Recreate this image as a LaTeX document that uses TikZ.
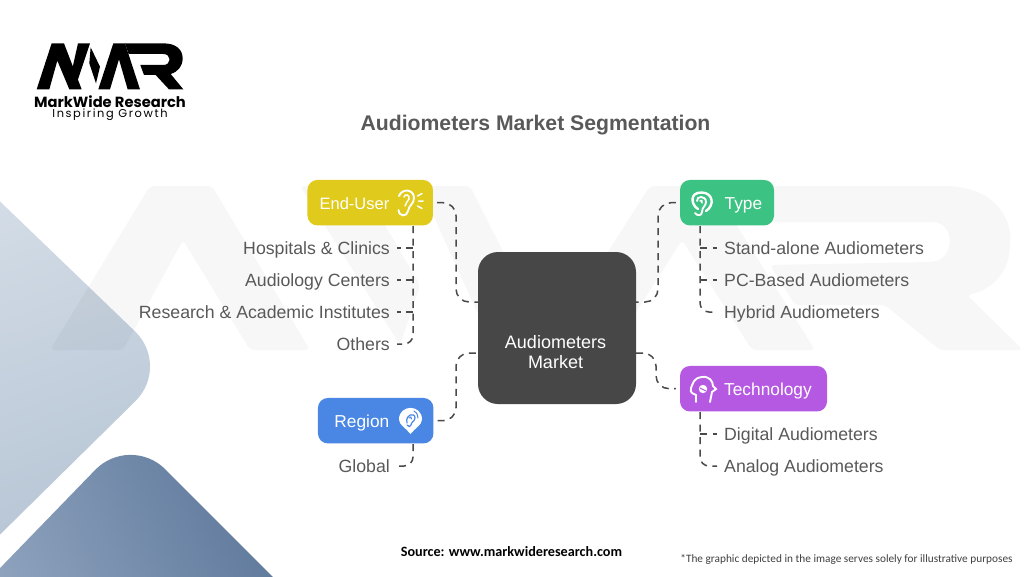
\documentclass[tikz,border=0pt]{standalone}
\usepackage{fontspec}
\setmainfont{Liberation Sans}
\newfontfamily\logofont{Poppins}
\newfontfamily\notefont{Carlito}
\definecolor{txt}{HTML}{595959}
\definecolor{dashc}{HTML}{4A4A4A}
\definecolor{cyellow}{HTML}{E0CA1B}
\definecolor{cgreen}{HTML}{3CC283}
\definecolor{cblue}{HTML}{4A86E4}
\definecolor{cpurple}{HTML}{B558E2}
\definecolor{ccenter}{HTML}{474747}
\definecolor{lightA}{HTML}{D3DCE6}
\definecolor{lightB}{HTML}{B5C4D4}
\definecolor{darkA}{HTML}{92A6C0}
\definecolor{darkB}{HTML}{587397}
\tikzset{
  x=1pt,y=-1pt,
  catbox/.style={rounded corners=10pt,inner sep=0pt,minimum height=45.5pt},
  cattext/.style={text=white,font=\fontsize{17.3}{20}\selectfont,inner sep=0pt},
  itemtext/.style={text=txt,font=\fontsize{17.7}{20}\selectfont,inner sep=0pt},
  conn/.style={draw=dashc,line width=1.5pt,dash pattern=on 7pt off 5.5pt,rounded corners=13pt},
  twig/.style={draw=dashc,line width=1.5pt,dash pattern=on 7pt off 5.5pt,rounded corners=9pt},
  ico/.style={draw=white,line width=1.9pt,line cap=round,fill=none},
  wmark/.style={fill=black,fill opacity=0.03,rounded corners=4pt}
}
\begin{document}
\begin{tikzpicture}
\useasboundingbox (0,0) rectangle (1024,576);
\fill[white] (0,0) rectangle (1024,576);
% corner shapes
\begin{scope}
\clip (0,0) rectangle (1024,576);
\shade[top color=lightA,bottom color=lightB,shading angle=20,rounded corners=50pt]
  (-40,163) -- (171,366) -- (-40,574) -- cycle;
\shade[left color=darkA,right color=darkB,shading angle=115,rounded corners=50pt]
  (-60,630) -- (130,434) -- (330,634) -- cycle;
\end{scope}
% watermark
\fill[wmark] (50,350) -- (150,186) -- (212,186) -- (310,350) -- (250,350) -- (183,240) -- (123,350) -- cycle;
\fill[wmark] (300,186) -- (362,186) -- (420,285) -- (400,345) -- cycle;
\fill[wmark] (420,186) -- (470,186) -- (520,285) -- (492,345) -- cycle;
\fill[wmark] (545,350) -- (650,186) -- (712,186) -- (815,350) -- (752,350) -- (682,240) -- (612,350) -- cycle;
\fill[wmark] (725,186) -- (940,186) .. controls (1000,186) and (1012,225) .. (1010,245) .. controls (1008,275) and (990,290) .. (967,295) -- (1023,350) -- (940,350) -- (885,305) -- (795,305) -- (770,265) -- (930,262) .. controls (955,258) and (955,224) .. (930,222) -- (770,222) -- cycle;
% logo
\begin{scope}[x=0.3333pt,y=-0.3333pt,yshift=-20pt]
\fill[black] (110,208) -- (155,70) -- (192,70) -- (245,208) -- (208,208) -- (172,122) -- (148,208) -- cycle;
\fill[black] (234,70) -- (270,70) -- (230,190) -- (215,155) -- cycle;
\fill[black] (272,82) -- (300,140) -- (288,190) -- (268,130) -- cycle;
\fill[black] (295,208) -- (340,70) -- (375,70) -- (420,208) -- (383,208) -- (357,118) -- (330,208) -- cycle;
\fill[black] (375,70) -- (490,70) .. controls (530,70) and (548,90) .. (548,115) .. controls (548,138) and (535,155) .. (512,162) -- (550,208) -- (507,208) -- (467,165) -- (432,165) -- (421,135) -- (490,135) .. controls (515,135) and (515,102) .. (490,102) -- (386,102) -- cycle;
\end{scope}
\node[inner sep=0pt,anchor=base,font=\logofont\bfseries\fontsize{14.7}{16}\selectfont] (brand) at (110,107) {MarkWide Research};
\node[inner sep=0pt,anchor=base,font=\logofont\fontsize{11.4}{13}\selectfont] (slogan) at (110,117.5) {\addfontfeature{LetterSpace=14}Inspiring Growth};
% title and notes
\node[inner sep=0pt,anchor=base,text=txt,font=\bfseries\fontsize{21.2}{24}\selectfont] (title) at (535.5,130.5) {Audiometers Market Segmentation};
\node[inner sep=0pt,anchor=base,font=\notefont\bfseries\fontsize{14.2}{16}\selectfont] (source) at (511.5,556) {Source: www.markwideresearch.com};
\node[inner sep=0pt,anchor=base,text=black!75,font=\notefont\fontsize{11.3}{13}\selectfont] (note) at (846.5,562) {*The graphic depicted in the image serves solely for illustrative purposes};
% boxes
\node[catbox,fill=ccenter,rounded corners=20pt,minimum width=158pt,minimum height=152pt] (center) at (557,328) {};
\node[inner sep=0pt,text=white,align=center,font=\fontsize{18}{20.5}\selectfont] (centertext) at (555.5,352) {Audiometers\\Market};
\node[catbox,fill=cyellow,minimum width=125.5pt] (enduser) at (370.2,202.7) {};
\node[catbox,fill=cgreen,minimum width=94pt] (type) at (727,202.7) {};
\node[catbox,fill=cpurple,minimum width=147pt] (tech) at (753.5,388.7) {};
\node[catbox,fill=cblue,minimum width=115.5pt] (region) at (375.7,420.7) {};
\node[cattext,anchor=base east,font=\fontsize{16.5}{20}\selectfont] (enduserlabel) at (389.5,209) {End-User};
\node[cattext,anchor=base west] (typelabel) at (724.5,209) {Type};
\node[cattext,anchor=base west] (techlabel) at (724,395) {Technology};
\node[cattext,anchor=base east] (regionlabel) at (389.5,427) {Region};
% items
\node[itemtext,anchor=base east] (h) at (390,254) {Hospitals \& Clinics};
\node[itemtext,anchor=base east] (a) at (390,286) {Audiology Centers};
\node[itemtext,anchor=base east] (r) at (390,318) {Research \& Academic Institutes};
\node[itemtext,anchor=base east] (o) at (390,350) {Others};
\node[itemtext,anchor=base east] (g) at (390,472) {Global};
\node[itemtext,anchor=base west] (s) at (724,254) {Stand-alone Audiometers};
\node[itemtext,anchor=base west] (p) at (724,286) {PC-Based Audiometers};
\node[itemtext,anchor=base west] (y) at (724,318) {Hybrid Audiometers};
\node[itemtext,anchor=base west] (d) at (724,440) {Digital Audiometers};
\node[itemtext,anchor=base west] (n) at (724,472) {Analog Audiometers};
% main connectors
\coordinate (cnw) at (478,302); \coordinate (cne) at (636,302);
\coordinate (csw) at (478,353); \coordinate (cse) at (636,353);
\draw[conn] ([xshift=4pt]enduser.east) -- (456,202.7) -- (456,302) -- (cnw);
\draw[conn] ([xshift=-4pt]type.west) -- (658,202.7) -- (658,302) -- (cne);
\draw[conn] (cse) -- (656,353) -- (656,388.7) -- ([xshift=-4pt]tech.west);
\draw[conn] ([xshift=4pt]region.east) -- (456,420.7) -- (456,353) -- (csw);
% twigs
\coordinate (et) at (413,226); \coordinate (tt) at (700,226);
\coordinate (ct) at (700,412); \coordinate (rt) at (413,444);
\coordinate (ho) at (397,248); \coordinate (ha) at (397,280); \coordinate (hr) at (397,312); \coordinate (hoo) at (397,344);
\coordinate (hs) at (717,248); \coordinate (hp) at (717,280); \coordinate (hy) at (717,312);
\coordinate (hd) at (717,434); \coordinate (hn) at (717,466); \coordinate (hg) at (397,466);
\draw[twig] (et) -- (413,344) -- (hoo);
\draw[twig] (413,248) -- (ho);
\draw[twig] (413,280) -- (ha);
\draw[twig] (413,312) -- (hr);
\draw[twig] (tt) -- (700,312) -- (hy);
\draw[twig] (700,248) -- (hs);
\draw[twig] (700,280) -- (hp);
\draw[twig] (ct) -- (700,466) -- (hn);
\draw[twig] (700,434) -- (hd);
\draw[twig] (rt) -- (413,466) -- (hg);
% end-user ear icon
\draw[ico] (398.5,210) .. controls (399,217) and (407,217) .. (408,211) .. controls (409,205) and (414,204) .. (414,198) .. controls (414,189) and (402,188) .. (399,196);
\draw[ico,line width=1.5pt] (404,197) .. controls (405,193) and (410,195) .. (409,199) .. controls (408,202) and (405,203) .. (405,206);
\draw[ico,line width=1.5pt] (417.5,196) -- (422,193.5) (418.5,201) -- (423,201) (417.5,206) -- (422,208.5);
% type ear icon
\draw[ico,line width=2.4pt] (698,209) .. controls (691,205) and (689,192) .. (702,192.5) .. controls (713,193) and (715,205) .. (706,211);
\draw[ico] (697,201) .. controls (696,196) and (706,195) .. (706,202) .. controls (706,206) and (702,207) .. (702,212) .. controls (702,216) and (697,216) .. (695,213);
\draw[ico,line width=1.5pt] (700,201) .. controls (701,199) and (703,201) .. (702,203);
% technology head icon
\draw[ico] (696,402) -- (696,395) .. controls (690,393) and (690,390) .. (691,388) .. controls (693,384) and (693,378) .. (702,377) .. controls (709,376) and (713,381) .. (713,386) -- (716,389) -- (712,392) -- (710,402);
\fill[white] (703,389) circle (4.2pt);
\draw[cpurple,line width=1pt] (700,388) -- (706,391);
% region pin icon
\fill[white] (410.5,434) .. controls (406,428) and (399,425) .. (399,419.5) .. controls (399,404) and (422,404) .. (422,419.5) .. controls (422,425) and (415,428) .. (410.5,434) -- cycle;
\draw[cblue,line width=1.2pt,line cap=round] (407,423) .. controls (405,414) and (415,412) .. (415,418) .. controls (415,421) and (411,422) .. (411,425) .. controls (411,427) and (408,427) .. (407,425);
\draw[cblue,line width=1pt,line cap=round] (409,418) .. controls (410,416) and (412,417) .. (411.5,419) (414,411) .. controls (417,413) and (418,415) .. (418,418);
\end{tikzpicture}
\end{document}
